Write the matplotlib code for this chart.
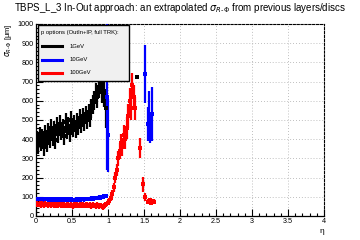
import matplotlib
matplotlib.use("Agg")
import matplotlib.pyplot as plt
from matplotlib.patches import Rectangle
from matplotlib.lines import Line2D
from matplotlib.ticker import MultipleLocator

plt.rcParams['font.family'] = ['Liberation Sans', 'DejaVu Sans']

# ---------------- data ----------------
eta_low = [0.01, 0.03, 0.05, 0.07, 0.09, 0.11, 0.13, 0.15, 0.17, 0.19,
           0.21, 0.23, 0.25, 0.27, 0.29, 0.31, 0.33, 0.35, 0.37, 0.39,
           0.41, 0.43, 0.45, 0.47, 0.49, 0.51, 0.53, 0.55, 0.57, 0.59,
           0.61, 0.63, 0.65, 0.67, 0.69, 0.71, 0.73, 0.75, 0.77, 0.79,
           0.81, 0.83, 0.85, 0.87, 0.89, 0.91, 0.93, 0.95, 0.97]

sig_1gev = [400, 370, 420, 385, 410, 360, 430, 380, 440, 400,
            460, 410, 450, 395, 470, 425, 480, 440, 460, 415,
            490, 445, 470, 430, 500, 455, 480, 450, 490, 465,
            510, 475, 520, 490, 530, 500, 540, 510, 560, 580,
            600, 640, 620, 670, 690, 650, 700, 640, 560]
err_1gev = [45, 45, 45, 45, 45, 45, 45, 45, 45, 45,
            45, 45, 45, 45, 45, 45, 45, 45, 45, 45,
            45, 45, 45, 45, 45, 45, 45, 45, 45, 45,
            45, 45, 45, 45, 45, 45, 45, 45, 50, 50,
            50, 55, 55, 55, 55, 60, 60, 70, 100]
eta_1gev_extra = [1.40]
sig_1gev_extra = [725]
err_1gev_extra = [10]

sig_10gev = [90, 88, 89, 87, 88, 86, 88, 87, 86, 88,
             85, 87, 86, 84, 86, 85, 87, 84, 86, 85,
             84, 86, 85, 84, 86, 83, 85, 84, 86, 85,
             87, 86, 88, 86, 89, 88, 90, 89, 91, 90,
             93, 92, 94, 96, 95, 98, 100, 103, 106]
err_10gev = [11] * 49
eta_10gev_hi = [0.985, 0.995, 1.51, 1.55, 1.57, 1.59, 1.61]
sig_10gev_hi = [620, 420, 740, 480, 520, 460, 530]
err_10gev_hi = [380, 190, 150, 90, 130, 80, 140]

sig_100gev = [62, 60, 63, 59, 61, 58, 62, 60, 59, 61,
              57, 60, 58, 56, 59, 57, 60, 56, 58, 57,
              55, 58, 57, 55, 58, 54, 57, 56, 58, 55,
              57, 56, 58, 55, 57, 56, 55, 58, 54, 56,
              55, 53, 57, 52, 55, 50, 48, 52, 60]
err_100gev = [15] * 49
eta_100gev_hi = [1.00, 1.02, 1.04, 1.06, 1.08, 1.10, 1.12, 1.14, 1.16, 1.18,
                 1.20, 1.22, 1.24, 1.26, 1.28, 1.30, 1.32, 1.34, 1.36, 1.38,
                 1.44, 1.48, 1.52, 1.56, 1.58, 1.60, 1.62, 1.64]
sig_100gev_hi = [70, 80, 95, 115, 150, 200, 240, 300, 340, 380,
                 360, 420, 400, 460, 520, 600, 560, 680, 620, 560,
                 354, 165, 100, 75, 82, 70, 78, 74]
err_100gev_hi = [14, 16, 18, 20, 24, 27, 32, 37, 42, 47,
                 47, 52, 52, 57, 62, 67, 62, 67, 62, 62,
                 52, 40, 22, 14, 14, 12, 12, 12]

series = [
    ("1GeV", "black", eta_low + eta_1gev_extra, sig_1gev + sig_1gev_extra, err_1gev + err_1gev_extra),
    ("10GeV", "#0000ff", eta_low + eta_10gev_hi, sig_10gev + sig_10gev_hi, err_10gev + err_10gev_hi),
    ("100GeV", "#ff0000", eta_low + eta_100gev_hi, sig_100gev + sig_100gev_hi, err_100gev + err_100gev_hi),
]

# ---------------- figure ----------------
fig = plt.figure(figsize=(3.6, 2.4), dpi=100)
ax = fig.add_axes([0.1, 0.1, 0.8, 0.8])

for name, col, x, y, e in series:
    ax.errorbar(x, y, yerr=e, fmt='s', color=col, ms=3.2, mew=0,
                elinewidth=1.6, capsize=1.8, capthick=1.6, zorder=3)

ax.set_xlim(0, 4)
ax.set_ylim(0, 1000)
ax.xaxis.set_minor_locator(MultipleLocator(0.1))
ax.yaxis.set_major_locator(MultipleLocator(100))
ax.yaxis.set_minor_locator(MultipleLocator(20))
ax.set_xticks([0, 0.5, 1, 1.5, 2, 2.5, 3, 3.5, 4])
ax.set_xticklabels(["0", "0.5", "1", "1.5", "2", "2.5", "3", "3.5", "4"])
ax.tick_params(axis='both', which='both', direction='in', top=False, right=False,
               labelsize=5.2, pad=1.5, width=0.8)
ax.tick_params(axis='both', which='major', length=5)
ax.tick_params(axis='both', which='minor', length=2.5)
ax.grid(True, which='major', color='#aaaaaa', linestyle=(0, (1, 2.5)), linewidth=0.6, zorder=0)

for s in ['top', 'right']:
    ax.spines[s].set_linestyle((0, (2.0, 1.5)))
    ax.spines[s].set_linewidth(0.8)
for s in ['left', 'bottom']:
    ax.spines[s].set_linewidth(0.9)

ax.set_ylabel(r"$\sigma_{R\text{-}\Phi}$ [μm]", fontsize=5.5, loc='top')
ax.yaxis.set_label_coords(-0.078, 1.0)
ax.set_xlabel("η", fontsize=6, loc='right', labelpad=2)

fig.text(0.5, 0.965, r"TBPS_L_3 In-Out approach: an extrapolated $\sigma_{R\text{-}\Phi}$ from previous layers/discs",
         ha='center', va='center', fontsize=7)

# legend box
x0, x1, y0, y1 = 0.007, 0.323, 0.703, 0.995
ax.add_patch(Rectangle((x0, y0), x1 - x0, y1 - y0, transform=ax.transAxes,
                       facecolor='#f0f0f0', edgecolor='black', linewidth=1.0, zorder=5))
ax.text(0.018, 0.955, "p options (OutIn+IP, full TRK):", transform=ax.transAxes,
        fontsize=4.2, va='center', ha='left', zorder=6)
for i, (name, col, _, _, _) in enumerate(series):
    yy = 0.885 - i * 0.07
    ax.add_line(Line2D([0.022, 0.09], [yy, yy], transform=ax.transAxes, color=col,
                       linewidth=2.2, zorder=6))
    ax.text(0.115, yy, name, transform=ax.transAxes, fontsize=4.2, va='center', ha='left', zorder=6)

fig.savefig("out.png", dpi=100)
